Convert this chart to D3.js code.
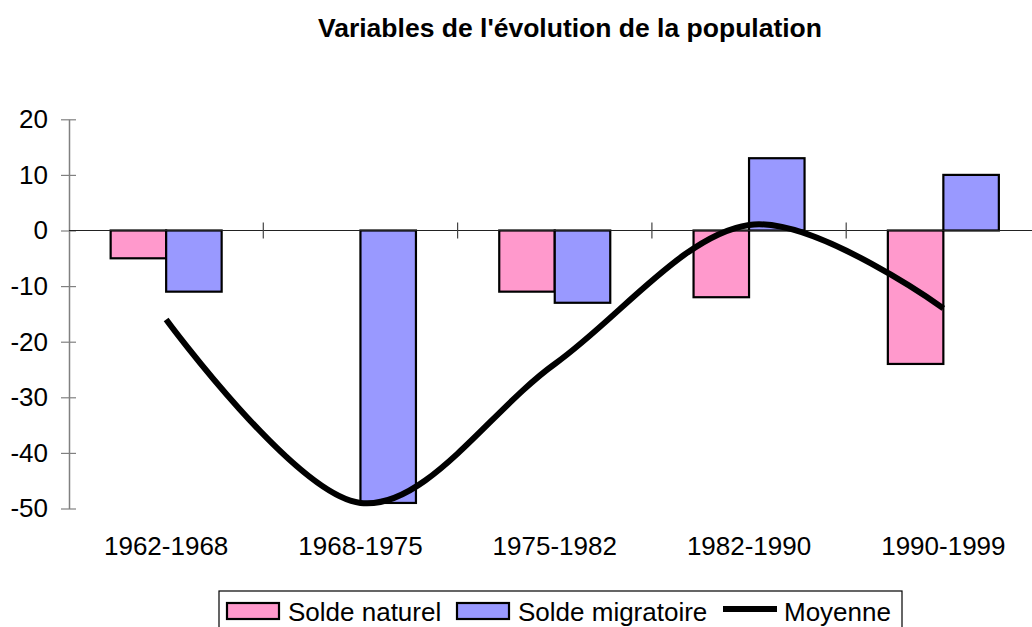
<!DOCTYPE html>
<html>
<head>
<meta charset="utf-8">
<script src="https://cdn.jsdelivr.net/npm/d3@7"></script>
<style>
  body { margin: 0; background: #fff; overflow: hidden; }
  svg { font-family: "Liberation Sans", Arial, sans-serif; }
</style>
</head>
<body>
<div id="chart"></div>
<script>
// donnees
var categories = ["1962-1968", "1968-1975", "1975-1982", "1982-1990", "1990-1999"];
var soldeNaturel = [-5, 0, -11, -12, -24];
var soldeMigratoire = [-11, -49, -13, 13, 10];
var moyenne = [-16, -49, -24, 1, -14];
var series = ["Solde naturel", "Solde migratoire"];
var yTicks = [20, 10, 0, -10, -20, -30, -40, -50];

const width = 1032, height = 627;
const svg = d3.select("#chart").append("svg")
  .attr("width", width)
  .attr("height", height);

// titre
svg.append("text")
  .attr("x", 570).attr("y", 37)
  .attr("text-anchor", "middle")
  .style("font-size", "26.5px")
  .style("font-weight", "bold")
  .text("Variables de l'évolution de la population");

const x = d3.scaleBand()
  .domain(categories)
  .range([69, 1040.5])
  .padding(0);
const gap = (x.bandwidth() - 111) / 2;
const x1 = d3.scaleBand()
  .domain(series)
  .range([gap, x.bandwidth() - gap]);

const y = d3.scaleLinear()
  .domain([-50, 20])
  .range([508.5, 119.3]);

// axe des y
const yAxis = svg.append("g")
  .attr("transform", "translate(69,0)")
  .call(d3.axisLeft(y).tickValues(yTicks).tickFormat(d => String(d))
    .tickSize(8).tickSizeOuter(0).tickPadding(13));
yAxis.select(".domain").attr("stroke", "#808080").attr("stroke-width", 1.5);
yAxis.selectAll(".tick line").attr("x1", 7).attr("stroke", "#808080").attr("stroke-width", 1.2);
yAxis.selectAll(".tick text")
  .style("font-size", "26px")
  .attr("fill", "#000")
  .attr("font-family", null);

// barres
var rows = categories.map((c, i) => ({cat: c, vals: [soldeNaturel[i], soldeMigratoire[i]]}));
var colors = ["#FF99CC", "#9999FF"];

const groups = svg.selectAll(".grp")
  .data(rows)
  .enter().append("g")
  .attr("class", "grp")
  .attr("transform", d => "translate(" + x(d.cat) + ",0)");

groups.selectAll("rect")
  .data(d => d.vals.map((v, j) => ({s: series[j], v: v, j: j})))
  .enter().append("rect")
  .filter(d => d.v !== 0)
  .attr("x", d => x1(d.s))
  .attr("width", x1.bandwidth())
  .attr("y", d => y(Math.max(0, d.v)))
  .attr("height", d => Math.abs(y(d.v) - y(0)))
  .attr("fill", d => colors[d.j])
  .attr("stroke", "#000")
  .attr("stroke-width", 2.2);

// axe des x (ligne du zero)
svg.append("line")
  .attr("x1", 69).attr("x2", width)
  .attr("y1", y(0)).attr("y2", y(0))
  .attr("stroke", "#222").attr("stroke-width", 1.2);
svg.selectAll(".xtick")
  .data(categories.slice(1))
  .enter().append("line")
  .attr("class", "xtick")
  .attr("x1", d => x(d)).attr("x2", d => x(d))
  .attr("y1", y(0) - 8).attr("y2", y(0) + 8)
  .attr("stroke", "#444").attr("stroke-width", 1.2);
svg.selectAll(".xlabel")
  .data(categories)
  .enter().append("text")
  .attr("class", "xlabel")
  .attr("x", d => x(d) + x.bandwidth() / 2)
  .attr("y", 555)
  .attr("text-anchor", "middle")
  .style("font-size", "26px")
  .text(d => d);

// courbe lissee
const line = d3.line()
  .x((d, i) => x(categories[i]) + x.bandwidth() / 2)
  .y(d => y(d))
  .curve(d3.curveCardinal.tension(0));
svg.append("path")
  .datum(moyenne)
  .attr("d", line)
  .attr("fill", "none")
  .attr("stroke", "#000")
  .attr("stroke-width", 6);

// legende
const leg = svg.append("g");
leg.append("rect")
  .attr("x", 219).attr("y", 591)
  .attr("width", 683).attr("height", 50)
  .attr("fill", "#fff")
  .attr("stroke", "#000").attr("stroke-width", 1.2);
var legItems = [
  {label: "Solde naturel", x: 227, type: "rect", c: colors[0]},
  {label: "Solde migratoire", x: 457, type: "rect", c: colors[1]},
  {label: "Moyenne", x: 723, type: "line"}
];
legItems.forEach(function(it) {
  if (it.type === "rect") {
    leg.append("rect")
      .attr("x", it.x).attr("y", 603)
      .attr("width", 52).attr("height", 16)
      .attr("fill", it.c)
      .attr("stroke", "#000").attr("stroke-width", 2.2);
  } else {
    leg.append("line")
      .attr("x1", it.x).attr("x2", it.x + 54)
      .attr("y1", 609).attr("y2", 609)
      .attr("stroke", "#000").attr("stroke-width", 6);
  }
  leg.append("text")
    .attr("x", it.x + 61).attr("y", 621)
    .style("font-size", "26px")
    .text(it.label);
});
</script>
</body>
</html>
